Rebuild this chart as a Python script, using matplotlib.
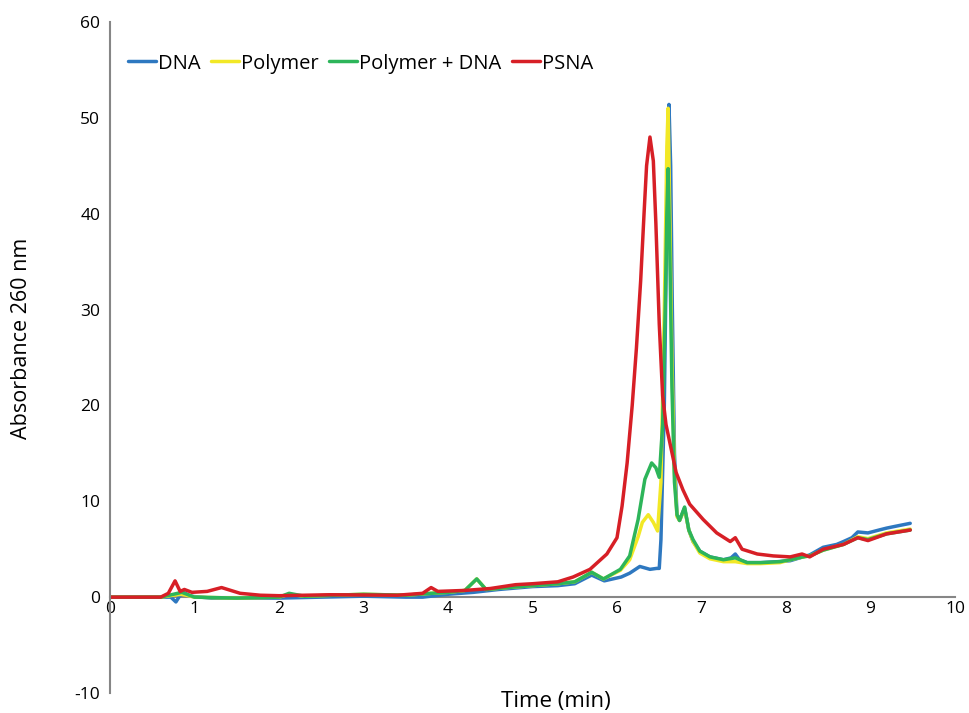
from matplotlib import pyplot as plt
import numpy as np

# values (time in min, absorbance at 260 nm)
dna_time = [0, 0.6, 0.72, 0.78, 0.83, 0.87, 0.95, 1.2, 1.6, 2.0, 2.5, 3.0, 3.5, 3.7,
            4.0, 4.3, 4.6, 5.0, 5.3, 5.5, 5.7, 5.85, 6.05, 6.15, 6.27, 6.39, 6.47,
            6.50, 6.52, 6.56, 6.59, 6.615, 6.635, 6.655, 6.68, 6.71, 6.74, 6.80,
            6.85, 6.90, 6.98, 7.10, 7.26, 7.35, 7.40, 7.45, 7.54, 7.7, 7.9, 8.05,
            8.2, 8.28, 8.44, 8.6, 8.68, 8.78, 8.85, 8.97, 9.1, 9.19, 9.3, 9.47]
dna_abs = [0, 0, 0.0, -0.5, 0.2, 0.5, 0.1, -0.1, -0.1, -0.1, 0.0, 0.1, 0.0, 0.0,
           0.3, 0.5, 0.8, 1.1, 1.2, 1.4, 2.3, 1.7, 2.1, 2.5, 3.2, 2.9, 3.0,
           3.0, 6.0, 20, 40, 51.4, 45, 30, 15, 8.6, 8.0, 9.3,
           7.0, 5.8, 4.8, 4.2, 3.9, 4.1, 4.5, 3.9, 3.6, 3.6, 3.7, 3.8,
           4.2, 4.4, 5.2, 5.5, 5.8, 6.2, 6.8, 6.7, 7.0, 7.2, 7.4, 7.7]

polymer_time = [0, 0.6, 0.75, 0.85, 1.0, 1.5, 2.0, 2.12, 2.3, 3.0, 3.5, 3.8, 4.0,
                4.2, 4.34, 4.45, 4.7, 5.0, 5.3, 5.5, 5.70, 5.84, 6.04, 6.15, 6.25,
                6.30, 6.37, 6.43, 6.48, 6.52, 6.56, 6.59, 6.605, 6.625, 6.65, 6.68,
                6.71, 6.74, 6.80, 6.85, 6.90, 6.98, 7.10, 7.26, 7.40, 7.54, 7.7,
                7.93, 8.05, 8.2, 8.28, 8.44, 8.68, 8.85, 8.97, 9.19, 9.47]
polymer_abs = [0, 0, 0.2, 0.3, 0, -0.1, 0.0, 0.3, 0.1, 0.3, 0.2, 0.4, 0.5,
               0.7, 1.9, 0.8, 1.0, 1.2, 1.4, 1.6, 2.6, 1.9, 2.8, 3.9, 6.3,
               7.8, 8.6, 7.8, 6.9, 12, 30, 47, 51, 40, 25, 13,
               8.4, 8.0, 9.2, 7.0, 5.8, 4.6, 4.0, 3.7, 3.7, 3.5, 3.5,
               3.6, 3.9, 4.2, 4.3, 4.9, 5.5, 6.3, 6.1, 6.7, 7.1]

mix_time = [0, 0.6, 0.75, 0.85, 1.0, 1.5, 2.0, 2.12, 2.3, 3.0, 3.5, 3.8, 4.0,
            4.2, 4.34, 4.45, 4.7, 5.0, 5.3, 5.5, 5.70, 5.84, 6.04, 6.15, 6.25,
            6.33, 6.41, 6.46, 6.50, 6.54, 6.57, 6.59, 6.605, 6.625, 6.65, 6.68,
            6.71, 6.74, 6.80, 6.85, 6.90, 6.98, 7.10, 7.26, 7.40, 7.54, 7.7,
            7.93, 8.05, 8.2, 8.28, 8.44, 8.68, 8.85, 8.97, 9.19, 9.47]
mix_abs = [0, 0, 0.3, 0.5, 0, -0.1, 0.0, 0.4, 0.1, 0.3, 0.2, 0.4, 0.5,
           0.7, 1.9, 0.8, 1.0, 1.2, 1.4, 1.6, 2.6, 1.9, 2.9, 4.3, 8.1,
           12.3, 14.0, 13.5, 12.5, 18, 30, 40, 44.7, 36, 22, 12,
           8.6, 8.0, 9.4, 7.0, 6.0, 4.8, 4.2, 3.9, 4.1, 3.6, 3.6,
           3.7, 3.9, 4.2, 4.3, 4.9, 5.5, 6.2, 6.0, 6.6, 7.0]

psna_time = [0, 0.6, 0.69, 0.77, 0.83, 0.88, 0.97, 1.15, 1.32, 1.54, 1.78, 2.0,
             2.6, 3.4, 3.7, 3.8, 3.88, 4.2, 4.5, 4.8, 5.0, 5.3, 5.48, 5.68, 5.88,
             6.0, 6.06, 6.12, 6.18, 6.23, 6.28, 6.32, 6.35, 6.39, 6.43, 6.46,
             6.50, 6.54, 6.58, 6.64, 6.70, 6.78, 6.86, 7.02, 7.18, 7.34, 7.40,
             7.48, 7.66, 7.85, 8.05, 8.19, 8.28, 8.44, 8.68, 8.85, 8.97, 9.19,
             9.47]
psna_abs = [0, 0, 0.4, 1.7, 0.6, 0.8, 0.5, 0.6, 1.0, 0.4, 0.2, 0.15,
            0.25, 0.2, 0.4, 1.0, 0.6, 0.7, 0.9, 1.3, 1.4, 1.6, 2.1, 2.9, 4.5,
            6.2, 9.5, 14, 20, 26, 33, 40, 45, 48, 45.5, 39,
            28.5, 21, 18, 15.5, 13, 11.2, 9.7, 8.1, 6.7, 5.8, 6.2,
            5.0, 4.5, 4.3, 4.2, 4.5, 4.2, 5.0, 5.5, 6.2, 5.9, 6.6,
            7.0]

labels = ["DNA", "Polymer", "Polymer + DNA", "PSNA"]
colors = ["#2E78C0", "#F2E826", "#2DB55A", "#D71F26"]

plt.rcParams["font.family"] = ["Open Sans", "DejaVu Sans"]
plt.rcParams["axes.unicode_minus"] = False

fig = plt.figure(figsize=(9.7, 7.13), dpi=100)
ax = fig.add_axes([110 / 970, 1 - 693 / 713, 845 / 970, 671 / 713])

series = [(dna_time, dna_abs), (polymer_time, polymer_abs),
          (mix_time, mix_abs), (psna_time, psna_abs)]
for (t, a), lab, c in zip(series, labels, colors):
    ax.plot(t, a, color=c, lw=2.5, label=lab, solid_joinstyle="round",
            solid_capstyle="round")

ax.set_xlim(0, 10)
ax.set_ylim(-10, 60)
ax.set_xticks(np.arange(0, 11, 1))
ax.set_yticks(np.arange(-10, 61, 10))

for s in ["top", "right"]:
    ax.spines[s].set_visible(False)
ax.spines["bottom"].set_position(("data", 0))
for s in ["left", "bottom"]:
    ax.spines[s].set_color("#868686")
    ax.spines[s].set_linewidth(1.5)
ax.spines["bottom"].set_zorder(0)
ax.tick_params(axis="both", length=0, labelsize=12.5, colors="black")
ax.tick_params(axis="x", pad=3)
ax.tick_params(axis="y", pad=7)

ax.set_ylabel("Absorbance 260 nm", fontsize=15.5, va="center")
ax.yaxis.set_label_coords((22 - 110) / 845, (693 - 338) / 671)
ax.set_xlabel("Time (min)", fontsize=16, va="center")
ax.xaxis.set_label_coords((556 - 110) / 845, (693 - 702) / 671)

ax.legend(loc="upper left", bbox_to_anchor=(0.012, 0.965), ncol=4, frameon=False,
          fontsize=14.5, handlelength=1.4, handletextpad=0.1, columnspacing=0.5,
          borderaxespad=0)

fig.savefig("out.png", dpi=100)
